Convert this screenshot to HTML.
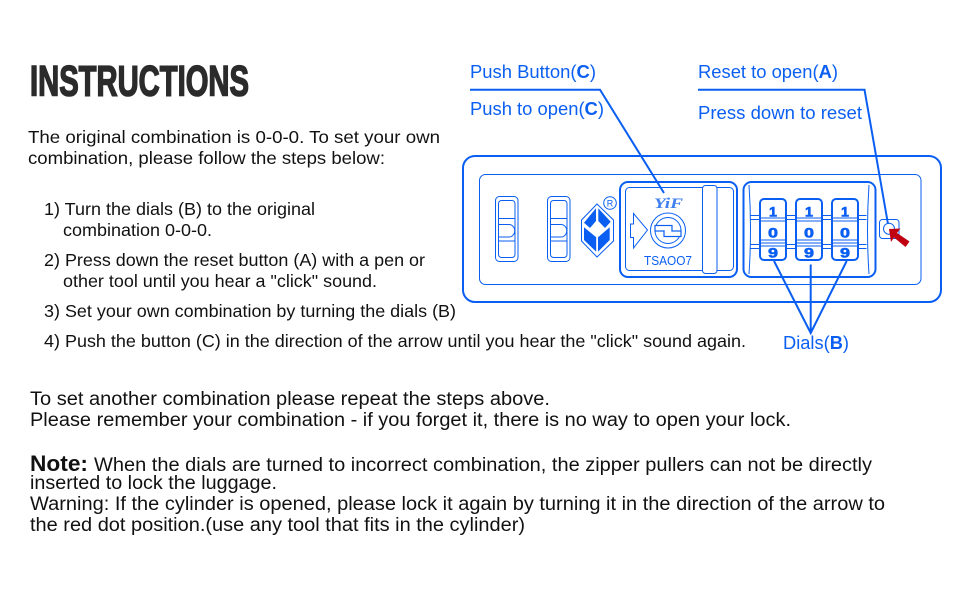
<!DOCTYPE html>
<html><head><meta charset="utf-8"><style>
html,body{margin:0;padding:0;background:#fff}
svg{display:block}
text{font-family:"Liberation Sans",Arial,sans-serif}
.k{fill:#111;font-size:17.5px}
.l{fill:#111;font-size:19px}
.b{fill:#0a5ff2;font-size:18px}
.s{fill:none;stroke:#0a5ff2}
.d{fill:#0a5ff2;font-size:14px;font-weight:bold;text-anchor:middle;stroke:#0a5ff2;stroke-width:.6}
</style></head><body>
<svg width="970" height="600" viewBox="0 0 970 600" xmlns="http://www.w3.org/2000/svg">
<rect width="970" height="600" fill="#fff"/>
<text x="30" y="95.5" font-size="43" font-weight="bold" fill="#2b2b2b" stroke="#2b2b2b" stroke-width="1.6" textLength="219" lengthAdjust="spacingAndGlyphs">INSTRUCTIONS</text>
<text class="k" x="28" y="143" textLength="412" lengthAdjust="spacingAndGlyphs">The original combination is 0-0-0. To set your own</text>
<text class="k" x="28" y="164" textLength="357" lengthAdjust="spacingAndGlyphs">combination, please follow the steps below:</text>
<text class="k" x="44" y="215" textLength="271" lengthAdjust="spacingAndGlyphs">1) Turn the dials (B) to the original</text>
<text class="k" x="63" y="236" textLength="149" lengthAdjust="spacingAndGlyphs">combination 0-0-0.</text>
<text class="k" x="44" y="266" textLength="381" lengthAdjust="spacingAndGlyphs">2) Press down the reset button (A) with a pen or</text>
<text class="k" x="63" y="287" textLength="314" lengthAdjust="spacingAndGlyphs">other tool until you hear a "click" sound.</text>
<text class="k" x="44" y="317" textLength="412" lengthAdjust="spacingAndGlyphs">3) Set your own combination by turning the dials (B)</text>
<text class="k" x="44" y="347" textLength="702" lengthAdjust="spacingAndGlyphs">4) Push the button (C) in the direction of the arrow until you hear the "click" sound again.</text>
<text class="l" x="30" y="405" textLength="520" lengthAdjust="spacingAndGlyphs">To set another combination please repeat the steps above.</text>
<text class="l" x="30" y="426" textLength="761" lengthAdjust="spacingAndGlyphs">Please remember your combination - if you forget it, there is no way to open your lock.</text>
<text x="30" y="471" font-size="22" font-weight="bold" fill="#111" textLength="58" lengthAdjust="spacingAndGlyphs">Note:</text>
<text class="l" x="94" y="471" textLength="778" lengthAdjust="spacingAndGlyphs">When the dials are turned to incorrect combination, the zipper pullers can not be directly</text>
<text class="l" x="30" y="489" textLength="247" lengthAdjust="spacingAndGlyphs">inserted to lock the luggage.</text>
<text class="l" x="30" y="510" textLength="855" lengthAdjust="spacingAndGlyphs">Warning: If the cylinder is opened, please lock it again by turning it in the direction of the arrow to</text>
<text class="l" x="30" y="531" textLength="495" lengthAdjust="spacingAndGlyphs">the red dot position.(use any tool that fits in the cylinder)</text>

<text class="b" x="470" y="78" textLength="126" lengthAdjust="spacingAndGlyphs">Push Button(<tspan font-weight="bold">C</tspan>)</text>
<text class="b" x="470" y="115" textLength="134" lengthAdjust="spacingAndGlyphs">Push to open(<tspan font-weight="bold">C</tspan>)</text>
<text class="b" x="698" y="78" textLength="140" lengthAdjust="spacingAndGlyphs">Reset to open(<tspan font-weight="bold">A</tspan>)</text>
<text class="b" x="698" y="119" textLength="164" lengthAdjust="spacingAndGlyphs">Press down to reset</text>
<text class="b" x="783" y="349" textLength="66" lengthAdjust="spacingAndGlyphs">Dials(<tspan font-weight="bold">B</tspan>)</text>

<rect class="s" x="463" y="156" width="478" height="146" rx="12" stroke-width="2"/>
<rect class="s" x="479.5" y="174.5" width="441.5" height="110" rx="6" stroke-width="1"/>

<g class="s" stroke-width="1">
<rect x="495.5" y="196.5" width="22.5" height="65" rx="4"/>
<rect x="498.5" y="200.5" width="16.5" height="57" rx="3"/>
<path d="M498.5 218.5H515M498.5 241H515M498.5 224.5H509a5.5 6 0 0 1 0 12.5H498.5"/>
</g>
<g class="s" stroke-width="1" transform="translate(52 0)">
<rect x="495.5" y="196.5" width="22.5" height="65" rx="4"/>
<rect x="498.5" y="200.5" width="16.5" height="57" rx="3"/>
<path d="M498.5 218.5H515M498.5 241H515M498.5 224.5H509a5.5 6 0 0 1 0 12.5H498.5"/>
</g>

<!-- logo -->
<polygon class="s" stroke-width="1" points="597,204 613.5,220 613.5,241 597,257 581.5,241 581.5,220"/>
<polygon fill="#0a5ff2" points="596,208.3 596,221 590,228 584,222.7"/>
<polygon fill="#0a5ff2" points="598.3,208.3 610.7,221.7 605,228 598.3,221"/>
<polygon fill="#0a5ff2" points="584,227.3 596.2,237.3 596.2,251.7 584,240"/>
<polygon fill="#0a5ff2" points="609.7,227.3 598,237.3 598,251.7 609.7,240"/>
<circle class="s" cx="610" cy="203" r="6.3" stroke-width="1"/>
<text x="610" y="206.5" font-size="9" fill="#0a5ff2" text-anchor="middle">R</text>

<!-- button panel -->
<rect class="s" x="620" y="182" width="117" height="95" rx="8" stroke-width="2"/>
<rect class="s" x="625.5" y="187.5" width="108" height="83" rx="4" stroke-width="1"/>
<rect x="702.5" y="185.5" width="14.5" height="88" rx="3" fill="#fff" stroke="#0a5ff2" stroke-width="1"/>
<text x="668.5" y="208" font-size="15" font-weight="bold" font-style="italic" fill="#3f7ff0" text-anchor="middle" textLength="29" lengthAdjust="spacingAndGlyphs" style="font-family:'Liberation Serif',serif">YiF</text>
<polygon class="s" stroke-width="1" points="633.5,213.5 647.5,230 633.5,248 633.5,237.5 630.5,237.5 630.5,224 633.5,224"/>
<circle class="s" cx="668" cy="230.5" r="17.5" stroke-width="1"/>
<circle class="s" cx="668" cy="230.5" r="13" stroke-width="1"/>
<rect x="655" y="225.5" width="17" height="5.5" fill="#fff" stroke="#0a5ff2" stroke-width="1.2"/>
<rect x="664" y="231" width="17" height="5.5" fill="#fff" stroke="#0a5ff2" stroke-width="1.2"/>
<rect x="664.7" y="229.6" width="6.6" height="2.6" fill="#fff"/>
<text x="644" y="265" font-size="13" fill="#0a5ff2" textLength="48" lengthAdjust="spacingAndGlyphs">TSAOO7</text>

<!-- dials panel -->
<rect class="s" x="743.5" y="182" width="132" height="95" rx="8" stroke-width="2"/>
<path class="s" stroke-width="1" d="M749 185Q752 229 749 274M869 185Q866 229 869 274"/>
<path class="s" stroke-width="1" d="M750.5 215.5H866.5M750.5 219.5H866.5M750.5 244.5H866.5M750.5 248.5H866.5"/>
<g>
<rect x="760" y="199" width="26" height="61" rx="4" fill="#fff" stroke="#0a5ff2" stroke-width="2"/>
<rect x="796" y="199" width="26" height="61" rx="4" fill="#fff" stroke="#0a5ff2" stroke-width="2"/>
<rect x="832" y="199" width="26" height="61" rx="4" fill="#fff" stroke="#0a5ff2" stroke-width="2"/>
</g>
<path class="s" stroke-width="1" d="M760 218H786M760 221H786M760 240H786M760 243H786M760 246H786M796 218H822M796 221H822M796 240H822M796 243H822M796 246H822M832 218H858M832 221H858M832 240H858M832 243H858M832 246H858"/>
<text class="d" x="773" y="216.3" textLength="8" lengthAdjust="spacingAndGlyphs">1</text><text class="d" x="809" y="216.3" textLength="8" lengthAdjust="spacingAndGlyphs">1</text><text class="d" x="845" y="216.3" textLength="8" lengthAdjust="spacingAndGlyphs">1</text>
<text class="d" x="773" y="237.3" textLength="10" lengthAdjust="spacingAndGlyphs">0</text><text class="d" x="809" y="237.3" textLength="10" lengthAdjust="spacingAndGlyphs">0</text><text class="d" x="845" y="237.3" textLength="10" lengthAdjust="spacingAndGlyphs">0</text>
<text class="d" x="773" y="257.3" textLength="10" lengthAdjust="spacingAndGlyphs">9</text><text class="d" x="809" y="257.3" textLength="10" lengthAdjust="spacingAndGlyphs">9</text><text class="d" x="845" y="257.3" textLength="10" lengthAdjust="spacingAndGlyphs">9</text>

<!-- reset -->
<rect class="s" x="879.5" y="219.5" width="19.5" height="19" rx="3" stroke-width="1"/>
<circle class="s" cx="889" cy="228.7" r="5.5" stroke-width="1"/>

<!-- leaders -->
<path class="s" stroke-width="2" d="M470 89.7H600L664 193"/>
<path class="s" stroke-width="2" d="M698 89.7H864.5L888 224"/>
<path class="s" stroke-width="2" d="M774 261L810.7 333L846.7 261M810.7 333V264.5"/>

<polygon fill="#c00010" points="889,229 900.5,228.5 897,233 909.5,241.5 905.5,247 894,237.5 891,242"/>
</svg>
</body></html>
